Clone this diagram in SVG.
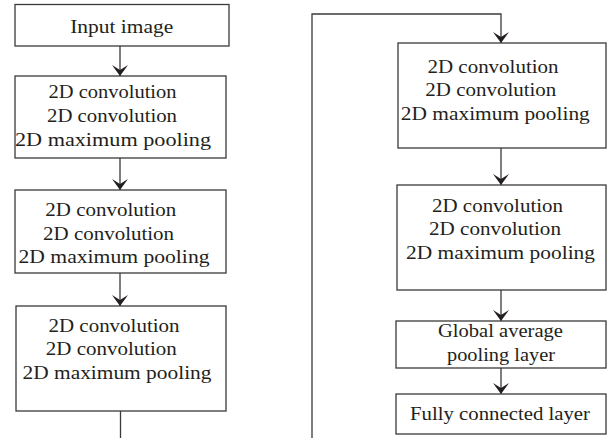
<svg xmlns="http://www.w3.org/2000/svg" width="608" height="438" viewBox="0 0 608 438">
  <style>
    .box { fill: #ffffff; stroke: #3a3a3a; stroke-width: 1.3; }
    .lbl { font-family: 'Liberation Serif', 'DejaVu Serif', serif; font-size: 19px; fill: #231f20; text-anchor: middle; }
    .wire { fill: none; stroke: #3a3a3a; stroke-width: 1.3; }
  </style>
  <defs>
    <marker id="arrow" markerUnits="userSpaceOnUse" viewBox="-12 -9 13 18" markerWidth="13" markerHeight="18" refX="0" refY="0" orient="auto">
      <path d="M0,0 L-11,-8 L-6,0 L-11,8 Z" fill="#231f20"/>
    </marker>
  </defs>

  <rect width="608" height="438" fill="#ffffff"/>

  <!-- connectors -->
  <g id="connectors">
    <line class="wire" x1="120" y1="46" x2="120" y2="76" marker-end="url(#arrow)"/>
    <line class="wire" x1="120" y1="158" x2="120" y2="190" marker-end="url(#arrow)"/>
    <line class="wire" x1="120" y1="273" x2="120" y2="306" marker-end="url(#arrow)"/>
    <line class="wire" x1="120.5" y1="411" x2="120.5" y2="438"/>
    <path class="wire" d="M312,438 L312,14 L501,14 L501,43" marker-end="url(#arrow)"/>
    <line class="wire" x1="501" y1="148" x2="501" y2="185" marker-end="url(#arrow)"/>
    <line class="wire" x1="501" y1="290" x2="501" y2="321" marker-end="url(#arrow)"/>
    <line class="wire" x1="501" y1="368" x2="501" y2="394" marker-end="url(#arrow)"/>
  </g>

  <g id="input">
    <rect class="box" x="15" y="4.5" width="214" height="41.5"/>
    <text class="lbl" x="121.7" y="32.5" textLength="103" lengthAdjust="spacingAndGlyphs">Input image</text>
  </g>

  <g id="block1">
    <rect class="box" x="15" y="76" width="211" height="82"/>
    <text class="lbl" x="112.5" y="97.5" textLength="128" lengthAdjust="spacingAndGlyphs">2D convolution</text>
    <text class="lbl" x="112" y="121.5" textLength="130" lengthAdjust="spacingAndGlyphs">2D convolution</text>
    <text class="lbl" x="113" y="146" textLength="196" lengthAdjust="spacingAndGlyphs">2D maximum pooling</text>
  </g>

  <g id="block2">
    <rect class="box" x="15" y="190" width="211" height="83"/>
    <text class="lbl" x="110.8" y="215.5" textLength="131" lengthAdjust="spacingAndGlyphs">2D convolution</text>
    <text class="lbl" x="108.6" y="239.5" textLength="131" lengthAdjust="spacingAndGlyphs">2D convolution</text>
    <text class="lbl" x="114" y="263" textLength="191" lengthAdjust="spacingAndGlyphs">2D maximum pooling</text>
  </g>

  <g id="block3">
    <rect class="box" x="16" y="306" width="210" height="105"/>
    <text class="lbl" x="114" y="331.5" textLength="131" lengthAdjust="spacingAndGlyphs">2D convolution</text>
    <text class="lbl" x="111.3" y="355" textLength="131" lengthAdjust="spacingAndGlyphs">2D convolution</text>
    <text class="lbl" x="117" y="379" textLength="189" lengthAdjust="spacingAndGlyphs">2D maximum pooling</text>
  </g>

  <g id="block4">
    <rect class="box" x="398" y="43" width="208" height="105"/>
    <text class="lbl" x="493" y="72.5" textLength="131" lengthAdjust="spacingAndGlyphs">2D convolution</text>
    <text class="lbl" x="490.8" y="96" textLength="131" lengthAdjust="spacingAndGlyphs">2D convolution</text>
    <text class="lbl" x="495.3" y="119.5" textLength="189" lengthAdjust="spacingAndGlyphs">2D maximum pooling</text>
  </g>

  <g id="block5">
    <rect class="box" x="397" y="185" width="209" height="105"/>
    <text class="lbl" x="497.5" y="211.5" textLength="131" lengthAdjust="spacingAndGlyphs">2D convolution</text>
    <text class="lbl" x="495" y="235" textLength="132" lengthAdjust="spacingAndGlyphs">2D convolution</text>
    <text class="lbl" x="500.5" y="258.5" textLength="189" lengthAdjust="spacingAndGlyphs">2D maximum pooling</text>
  </g>

  <g id="gap">
    <rect class="box" x="396" y="321" width="210" height="47"/>
    <text class="lbl" x="500.5" y="337" textLength="125" lengthAdjust="spacingAndGlyphs">Global average</text>
    <text class="lbl" x="501" y="361" textLength="108" lengthAdjust="spacingAndGlyphs">pooling layer</text>
  </g>

  <g id="dense">
    <rect class="box" x="396" y="394" width="210" height="40"/>
    <text class="lbl" x="500" y="419.5" textLength="180" lengthAdjust="spacingAndGlyphs">Fully connected layer</text>
  </g>
</svg>
